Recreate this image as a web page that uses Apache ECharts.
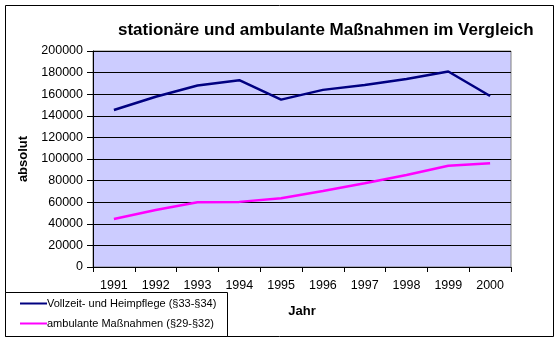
<!DOCTYPE html>
<html>
<head>
<meta charset="utf-8">
<script src="https://cdn.jsdelivr.net/npm/echarts@6/dist/echarts.min.js"></script>
<style>
html,body{margin:0;padding:0;background:#fff;}
#c{width:560px;height:342px;}
</style>
</head>
<body>
<div id="c"></div>
<script>
const years = ['1991','1992','1993','1994','1995','1996','1997','1998','1999','2000'];
const vollzeit = [145400, 157700, 168000, 173000, 155000, 164000, 168500, 174000, 181000, 158300];
const ambulant = [44400, 52800, 59900, 60300, 63600, 70400, 77500, 85200, 93800, 96000];
const seriesNames = ['Vollzeit- und Heimpflege (§33-§34)', 'ambulante Maßnahmen (§29-§32)'];
const titleText = 'stationäre und ambulante Maßnahmen im Vergleich';

const font = 'Liberation Sans, Arial, sans-serif';
const chart = echarts.init(document.getElementById('c'), null, {renderer: 'canvas'});
chart.setOption({
  animation: false,
  backgroundColor: '#fff',
  textStyle: {fontFamily: font},
  title: {
    text: titleText,
    left: 113, top: 17,
    textStyle: {fontFamily: font, fontSize: 17, fontWeight: 'bold', color: '#000'}
  },
  graphic: [
    {type: 'rect', z: -10, shape: {x: 5.5, y: 5.5, width: 548, height: 331}, style: {fill: 'none', stroke: '#000', lineWidth: 1}},
    {type: 'rect', z: 1, shape: {x: 5.5, y: 292.5, width: 222, height: 44}, style: {fill: '#fff', stroke: '#000', lineWidth: 1}}
  ],
  legend: {
    orient: 'vertical',
    left: 20, top: 298,
    itemWidth: 27, itemHeight: 2, itemGap: 9,
    icon: 'rect',
    padding: 0,
    z: 5,
    textStyle: {fontFamily: font, fontSize: 11, color: '#000', padding: [0,0,0,-5]},
    data: seriesNames
  },
  grid: {left: 93, top: 51, right: 49, bottom: 75, show: true, backgroundColor: '#CCCCFF', borderColor: '#808080', borderWidth: 1},
  xAxis: {
    type: 'category',
    data: years,
    boundaryGap: true,
    name: 'Jahr',
    nameLocation: 'middle',
    nameGap: 38,
    nameTextStyle: {fontFamily: font, fontSize: 13, fontWeight: 'bold', color: '#000'},
    axisLine: {lineStyle: {color: '#000', width: 1}},
    axisTick: {show: true, length: 5, lineStyle: {color: '#000'}},
    axisLabel: {fontFamily: font, fontSize: 12.5, color: '#000', margin: 12}
  },
  yAxis: {
    type: 'value',
    min: 0, max: 200000, interval: 20000,
    name: 'absolut',
    nameLocation: 'middle',
    nameGap: 55,
    nameRotate: 90,
    nameTextStyle: {fontFamily: font, fontSize: 13, fontWeight: 'bold', color: '#000'},
    axisLine: {show: true, lineStyle: {color: '#000', width: 1}},
    axisTick: {show: true, length: 6, lineStyle: {color: '#000'}},
    axisLabel: {fontFamily: font, fontSize: 12.5, color: '#000', margin: 10, formatter: v => String(v)},
    splitLine: {show: true, lineStyle: {color: '#000', width: 1}}
  },
  series: [
    {name: seriesNames[0], type: 'line', data: vollzeit, symbol: 'none', lineStyle: {color: '#000080', width: 2.5}, itemStyle: {color: '#000080'}},
    {name: seriesNames[1], type: 'line', data: ambulant, symbol: 'none', lineStyle: {color: '#FF00FF', width: 2.5}, itemStyle: {color: '#FF00FF'}}
  ]
});
</script>
</body>
</html>
